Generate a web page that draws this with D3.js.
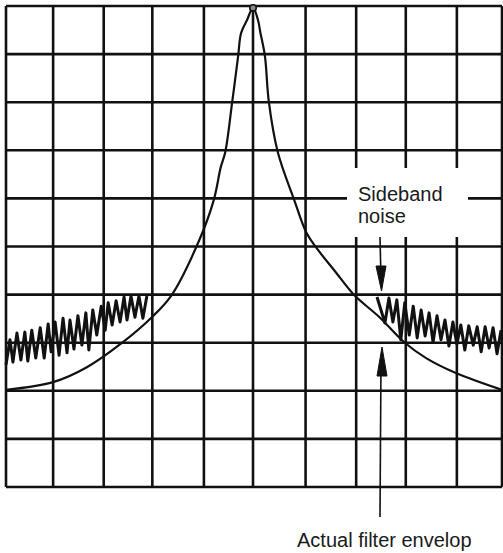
<!DOCTYPE html>
<html>
<head>
<meta charset="utf-8">
<script src="https://cdn.jsdelivr.net/npm/d3@7"></script>
<style>
  html, body { margin: 0; padding: 0; background: #fff; }
  svg { display: block; }
  text { font-family: "Liberation Sans", Arial, Helvetica, sans-serif; fill: #1a1a1a; }
</style>
</head>
<body>
<div id="chart"></div>
<script>
// ---- Data (in screen divisions: x 0..10 left→right, y 0..10 bottom→top) ----
const gridColumns = [0, 0.95, 1.97, 2.95, 3.99, 4.98, 6.04, 7.06, 8.06, 9.09, 10];
const gridRows = [0, 1, 2, 3, 4, 5, 6, 7, 8, 9, 10];

const envelopeX = [0, 0.95, 1.63, 2.33, 2.94, 3.34, 3.90, 4.19, 4.33, 4.42, 4.56, 4.68, 4.74, 4.86, 4.98,
                   5.08, 5.13, 5.22, 5.30, 5.48, 5.81, 6.06, 6.26, 6.66, 7.02, 7.53, 8.03, 8.47, 9.07, 10.0];
const envelopeY = [2.02, 2.18, 2.49, 2.99, 3.53, 3.99, 5.14, 5.97, 6.65, 6.96, 8.0, 8.96, 9.44, 9.71, 9.96,
                   9.71, 9.44, 8.96, 8.0, 6.96, 5.97, 5.28, 4.97, 4.45, 3.99, 3.53, 3.01, 2.68, 2.37, 2.02];

const leftNoiseX = [0, 0.08, 0.14, 0.22, 0.30, 0.38, 0.44, 0.52, 0.60, 0.69, 0.77, 0.85, 0.91, 0.99, 1.07,
                    1.15, 1.23, 1.29, 1.37, 1.45, 1.53, 1.61, 1.67, 1.75, 1.83, 1.92, 2.00, 2.06, 2.14, 2.22,
                    2.30, 2.38, 2.44, 2.52, 2.60, 2.68, 2.76, 2.84];
const leftNoiseY = [2.54, 3.06, 2.60, 3.20, 2.64, 3.22, 2.62, 3.26, 2.68, 3.31, 2.68, 3.39, 2.81, 3.43, 2.74,
                    3.51, 2.79, 3.47, 2.87, 3.56, 2.95, 3.62, 2.85, 3.68, 3.16, 3.76, 3.26, 3.83, 3.37, 3.87,
                    3.43, 3.95, 3.47, 3.97, 3.53, 3.97, 3.51, 3.97];

const rightNoiseX = [7.48, 7.64, 7.72, 7.80, 7.88, 7.96, 8.04, 8.13, 8.21, 8.29, 8.37, 8.45, 8.53, 8.61, 8.69,
                     8.77, 8.85, 8.93, 9.01, 9.09, 9.17, 9.25, 9.33, 9.42, 9.50, 9.58, 9.66, 9.74, 9.82, 9.90, 9.98];
const rightNoiseY = [3.95, 3.41, 3.93, 3.43, 3.89, 3.06, 3.83, 3.16, 3.76, 3.10, 3.68, 3.14, 3.62, 3.01, 3.56,
                     3.06, 3.47, 2.93, 3.43, 2.97, 3.37, 2.85, 3.35, 2.95, 3.33, 2.81, 3.33, 2.89, 3.31, 2.77, 3.26];

const peakMarker = { x: 4.98, y: 9.96 };
const labelNoise = ["Sideband", "noise"];
const labelEnvelope = "Actual filter envelop";

// ---- Layout ----
const W = 503, H = 553;
const svg = d3.select("#chart").append("svg").attr("width", W).attr("height", H);

const x = d3.scaleLinear().domain([0, 10]).range([6, 502]);
const y = d3.scaleLinear().domain([0, 10]).range([487, 6]);

const ink = "#111";

// Grid lines
const grid = svg.append("g");
grid.selectAll("line.v").data(gridColumns).join("line")
  .attr("class", "v")
  .attr("x1", d => x(d)).attr("x2", d => x(d))
  .attr("y1", y(10)).attr("y2", y(0))
  .attr("stroke", ink).attr("stroke-width", 2.6);
grid.selectAll("line.h").data(gridRows).join("line")
  .attr("class", "h")
  .attr("y1", d => y(d)).attr("y2", d => y(d))
  .attr("x1", x(0)).attr("x2", x(10))
  .attr("stroke", ink).attr("stroke-width", 2.6);

// Envelope curve
const envData = envelopeX.map((v, i) => [v, envelopeY[i]]);
svg.append("path")
  .attr("d", d3.line().x(d => x(d[0])).y(d => y(d[1])).curve(d3.curveCatmullRom.alpha(0.5))(envData))
  .attr("fill", "none").attr("stroke", ink).attr("stroke-width", 2.2);

// Noise traces
const noiseLine = d3.line().x(d => x(d[0])).y(d => y(d[1])).curve(d3.curveLinear);
[[leftNoiseX, leftNoiseY], [rightNoiseX, rightNoiseY]].forEach(([xs, ys]) => {
  svg.append("path")
    .attr("d", noiseLine(xs.map((v, i) => [v, ys[i]])))
    .attr("fill", "none").attr("stroke", ink).attr("stroke-width", 3)
    .attr("stroke-linejoin", "round");
});

// Peak marker
svg.append("circle")
  .attr("cx", x(peakMarker.x)).attr("cy", y(peakMarker.y)).attr("r", 3.2)
  .attr("fill", "#888").attr("stroke", ink).attr("stroke-width", 1.5);

// Label box for "Sideband noise"
svg.append("rect")
  .attr("x", 347).attr("y", 168).attr("width", 121).attr("height", 69)
  .attr("fill", "#fff");
const t = svg.append("text").attr("x", 358).attr("y", 201).attr("font-size", 20);
t.append("tspan").attr("x", 358).text(labelNoise[0]);
t.append("tspan").attr("x", 358).attr("dy", 22).text(labelNoise[1]);

// Arrows
const arrowsG = svg.append("g").attr("stroke", ink).attr("fill", ink);
arrowsG.append("line").attr("x1", 380).attr("y1", 237).attr("x2", 381).attr("y2", 280).attr("stroke-width", 1.6);
arrowsG.append("path").attr("d", "M376,266 L386,266 L381.5,291 Z").attr("stroke-width", 1);
arrowsG.append("line").attr("x1", 381).attr("y1", 360).attr("x2", 380).attr("y2", 517).attr("stroke-width", 1.6);
arrowsG.append("path").attr("d", "M377,376 L387,376 L382,347 Z").attr("stroke-width", 1);

svg.append("text").attr("x", 297).attr("y", 547).attr("font-size", 20).text(labelEnvelope);
</script>
</body>
</html>
